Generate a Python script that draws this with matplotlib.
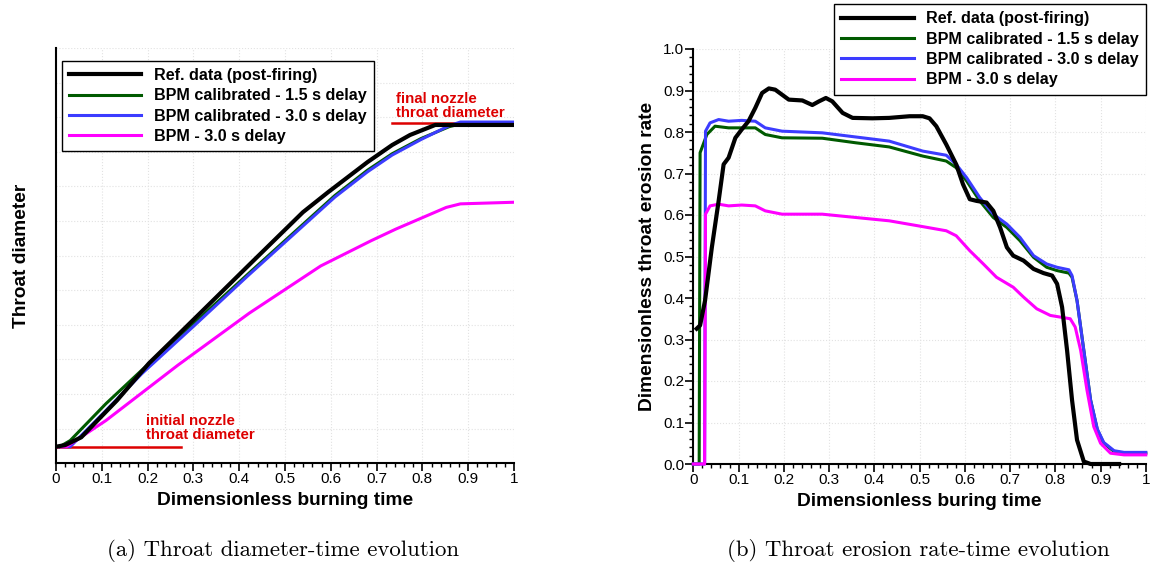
import numpy as np
import matplotlib
matplotlib.use("Agg")
import matplotlib.pyplot as plt
from matplotlib.ticker import MultipleLocator

plt.rcParams['font.family'] = ['Liberation Sans', 'DejaVu Sans']

# ---- (a) throat diameter, normalised: 0 = initial, 1 = final nozzle throat diameter
ref_a_t = [0.0, 0.02, 0.055, 0.133, 0.203, 0.25, 0.3125, 0.42, 0.539, 0.594, 0.68, 0.734, 0.773, 0.828, 1.0]
ref_a_d = [0.0, 0.005, 0.029, 0.143, 0.258, 0.323, 0.41, 0.56, 0.725, 0.787, 0.88, 0.933, 0.964, 0.995, 0.995]

bpm15_a_t = [0.008, 0.031, 0.109, 0.1875, 0.3, 0.42, 0.609, 0.68, 0.734, 0.797, 0.859, 0.883, 1.0]
bpm15_a_d = [0.0, 0.019, 0.133, 0.237, 0.38, 0.535, 0.777, 0.855, 0.906, 0.953, 0.99, 0.998, 0.998]

bpm30_a_t = [0.008, 0.031, 0.109, 0.1875, 0.3, 0.42, 0.609, 0.68, 0.734, 0.797, 0.859, 0.883, 1.0]
bpm30_a_d = [0.0, 0.0, 0.112, 0.226, 0.372, 0.53, 0.772, 0.85, 0.902, 0.95, 0.993, 1.004, 1.004]

bpm_a_t = [0.0, 0.023, 0.109, 0.266, 0.422, 0.578, 0.688, 0.742, 0.852, 0.883, 1.0]
bpm_a_d = [0.0, 0.0, 0.081, 0.252, 0.413, 0.559, 0.637, 0.673, 0.74, 0.751, 0.756]

# ---- (b) dimensionless throat erosion rate
ref_b_t = [0.0074, 0.015, 0.026, 0.041, 0.056, 0.067, 0.078, 0.093, 0.107, 0.122, 0.137, 0.152,
           0.167, 0.181, 0.196, 0.211, 0.241, 0.263, 0.278, 0.293, 0.307, 0.330, 0.352, 0.396,
           0.433, 0.478, 0.507, 0.522, 0.537, 0.559, 0.581, 0.596, 0.611, 0.626, 0.648, 0.663,
           0.678, 0.693, 0.707, 0.730, 0.752, 0.774, 0.793, 0.804, 0.815, 0.826, 0.837, 0.848,
           0.863, 0.878, 0.941]
ref_b_r = [0.326, 0.334, 0.394, 0.522, 0.634, 0.722, 0.738, 0.786, 0.806, 0.826, 0.858, 0.894,
           0.905, 0.902, 0.890, 0.878, 0.876, 0.865, 0.874, 0.882, 0.874, 0.846, 0.834, 0.833,
           0.834, 0.838, 0.838, 0.833, 0.814, 0.770, 0.722, 0.674, 0.638, 0.634, 0.630, 0.610,
           0.570, 0.522, 0.502, 0.490, 0.470, 0.460, 0.454, 0.434, 0.378, 0.274, 0.154, 0.058,
           0.006, 0.0, 0.0]

bpm15_b_t = [0.0, 0.013, 0.015, 0.030, 0.048, 0.078, 0.107, 0.137, 0.159, 0.196, 0.285, 0.359,
             0.433, 0.507, 0.559, 0.581, 0.604, 0.633, 0.663, 0.693, 0.722, 0.752, 0.781, 0.804,
             0.830, 0.837, 0.848, 0.863, 0.878, 0.893, 0.907, 0.930, 0.952, 1.0]
bpm15_b_r = [0.0, 0.0, 0.750, 0.794, 0.814, 0.810, 0.810, 0.810, 0.794, 0.786, 0.785, 0.774,
             0.764, 0.742, 0.730, 0.714, 0.682, 0.634, 0.594, 0.570, 0.538, 0.498, 0.474, 0.466,
             0.460, 0.450, 0.394, 0.274, 0.154, 0.082, 0.050, 0.030, 0.026, 0.026]

bpm30_b_t = [0.0, 0.025, 0.027, 0.037, 0.056, 0.078, 0.107, 0.137, 0.159, 0.196, 0.285, 0.359,
             0.433, 0.507, 0.559, 0.581, 0.604, 0.633, 0.663, 0.693, 0.722, 0.752, 0.781, 0.804,
             0.830, 0.837, 0.848, 0.863, 0.878, 0.893, 0.907, 0.930, 0.952, 1.0]
bpm30_b_r = [0.0, 0.0, 0.802, 0.822, 0.830, 0.826, 0.828, 0.826, 0.810, 0.802, 0.798, 0.788,
             0.778, 0.754, 0.744, 0.722, 0.690, 0.642, 0.602, 0.578, 0.546, 0.502, 0.482, 0.474,
             0.468, 0.454, 0.394, 0.274, 0.154, 0.084, 0.052, 0.032, 0.028, 0.028]

bpm_b_t = [0.0, 0.025, 0.027, 0.037, 0.056, 0.078, 0.107, 0.137, 0.159, 0.196, 0.285, 0.359,
           0.433, 0.507, 0.559, 0.581, 0.611, 0.641, 0.670, 0.707, 0.730, 0.759, 0.789, 0.833,
           0.844, 0.856, 0.870, 0.885, 0.900, 0.922, 0.952, 1.0]
bpm_b_r = [0.0, 0.0, 0.602, 0.622, 0.626, 0.622, 0.624, 0.622, 0.610, 0.602, 0.602, 0.594,
           0.586, 0.572, 0.562, 0.550, 0.514, 0.482, 0.450, 0.426, 0.402, 0.374, 0.358, 0.350,
           0.330, 0.274, 0.178, 0.090, 0.050, 0.026, 0.022, 0.022]

labels = ['Ref. data (post-firing)', 'BPM calibrated - 1.5 s delay',
          'BPM calibrated - 3.0 s delay', 'BPM - 3.0 s delay']
colors = ['black', '#005a00', '#3c3cff', '#ff00ff']
widths = [3.0, 2.2, 2.2, 2.2]
tick_labels = ['0', '0.1', '0.2', '0.3', '0.4', '0.5', '0.6', '0.7', '0.8', '0.9', '1']
red = '#dd0000'

fig = plt.figure(figsize=(11.52, 5.65), dpi=100)
ax1 = fig.add_axes([56 / 1152, 1 - 463.3 / 565, 458 / 1152, 415.3 / 565])
ax2 = fig.add_axes([693.3 / 1152, 1 - 464 / 565, 452.5 / 1152, 415 / 565])


def style_axes(ax):
    for side in ['top', 'right']:
        ax.spines[side].set_visible(False)
    for side in ['left', 'bottom']:
        ax.spines[side].set_linewidth(1.5)
    ax.set_xlim(0, 1)
    ax.set_xticks(np.arange(11) / 10)
    ax.set_xticklabels(tick_labels)
    ax.xaxis.set_minor_locator(MultipleLocator(0.02))
    ax.tick_params(which='major', direction='out', length=5.5, width=1.2, labelsize=11, pad=1)
    ax.tick_params(which='minor', direction='out', length=3.2, width=1.0)
    ax.grid(True, which='major', color='#e2e2e2', linestyle=':', linewidth=0.8)
    ax.set_axisbelow(True)


def make_legend(ax, handles, **kw):
    leg = ax.legend(handles=handles, borderaxespad=0, fancybox=False, framealpha=1,
                    edgecolor='black', prop={'weight': 'bold', 'size': 11.6},
                    handlelength=4.5, handletextpad=0.75, labelspacing=0.33,
                    borderpad=0.45, **kw)
    leg.get_frame().set_linewidth(1.0)
    return leg


# (a)
style_axes(ax1)
ax1.set_ylim(-0.0513, 1.233)
ax1.set_yticks(np.linspace(-0.0513, 1.233, 13))
ax1.tick_params(axis='y', which='both', length=0, labelleft=False)
ax1.plot([0, 0.273], [0, 0], color=red, lw=1.8, zorder=2)
ax1.plot([0.733, 1.0], [1.0, 1.0], color=red, lw=1.8, zorder=2)
ax1.text(0.1965, 0.0136, 'initial nozzle\nthroat diameter', color=red, fontsize=10.8,
         fontweight='bold', va='bottom', ha='left', linespacing=1.0)
ax1.text(0.742, 1.009, 'final nozzle\nthroat diameter', color=red, fontsize=10.8,
         fontweight='bold', va='bottom', ha='left', linespacing=1.0)
series_a = [(ref_a_t, ref_a_d), (bpm15_a_t, bpm15_a_d), (bpm30_a_t, bpm30_a_d), (bpm_a_t, bpm_a_d)]
handles = []
for (t, d), lab, c, w in zip(series_a, labels, colors, widths):
    ln, = ax1.plot(t, d, color=c, lw=w, label=lab, zorder=4 if c == 'black' else 3)
    handles.append(ln)
make_legend(ax1, handles, loc='upper left', bbox_to_anchor=(0.0124, 0.969))
ax1.set_xlabel('Dimensionless burning time', fontsize=13.8, fontweight='bold')
ax1.set_ylabel('Throat diameter', fontsize=13.8, fontweight='bold')
ax1.xaxis.set_label_coords(0.5, -0.07)
ax1.yaxis.set_label_coords(-0.056, 0.5)

# (b)
style_axes(ax2)
ax2.set_ylim(0, 1.0)
ax2.set_yticks(np.arange(11) / 10)
ax2.set_yticklabels(['%.1f' % v for v in np.arange(11) / 10])
ax2.yaxis.set_minor_locator(MultipleLocator(0.02))
series_b = [(ref_b_t, ref_b_r), (bpm15_b_t, bpm15_b_r), (bpm30_b_t, bpm30_b_r), (bpm_b_t, bpm_b_r)]
handles = []
for (t, r), lab, c, w in zip(series_b, labels, colors, widths):
    ln, = ax2.plot(t, r, color=c, lw=w, label=lab, zorder=4 if c == 'black' else 3, clip_on=False)
    handles.append(ln)
make_legend(ax2, handles, loc='upper right', bbox_to_anchor=(1.0, 1.108))
ax2.set_xlabel('Dimensionless buring time', fontsize=13.8, fontweight='bold')
ax2.set_ylabel('Dimensionless throat erosion rate', fontsize=13.8, fontweight='bold')
ax2.xaxis.set_label_coords(0.5, -0.07)
ax2.yaxis.set_label_coords(-0.082, 0.5)

fig.text(283.5 / 1152, 1 - 550 / 565, '(a) Throat diameter-time evolution', family='cmr10',
         fontsize=16.4, ha='center', va='center')
fig.text(918 / 1152, 1 - 550 / 565, '(b) Throat erosion rate-time evolution', family='cmr10',
         fontsize=16.4, ha='center', va='center')

fig.savefig('out.png', dpi=100)
